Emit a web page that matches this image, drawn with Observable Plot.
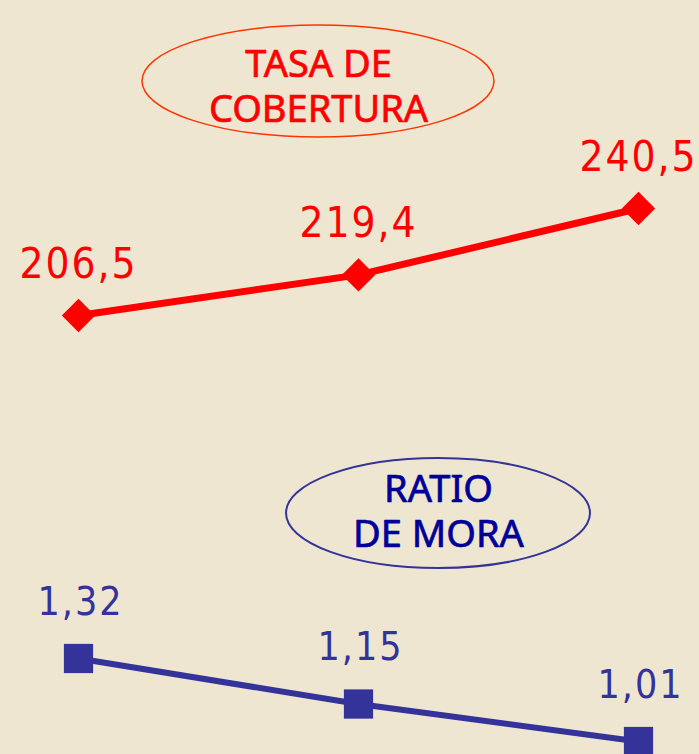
<!DOCTYPE html>
<html>
<head>
<meta charset="utf-8">
<script src="https://cdn.jsdelivr.net/npm/d3@7"></script>
<script src="https://cdn.jsdelivr.net/npm/@observablehq/plot@0.6"></script>
<style>
  html, body { margin: 0; padding: 0; background: #EFE6D1; }
  #chart { width: 699px; height: 754px; overflow: hidden; }
  #chart svg { display: block; background: #EFE6D1; }
  .num text { letter-spacing: 2px; }
</style>
</head>
<body>
<div id="chart"></div>
<script>
// ---- data ----
const periods = ["P1", "P2", "P3"];
const cobertura = [206.5, 219.4, 240.5];
const mora = [1.32, 1.15, 1.01];
const tituloCobertura = "TASA DE\nCOBERTURA";
const tituloMora = "RATIO\nDE MORA";

const bg = "#EFE6D1";
const red = "#FF0000";
const blue = "#333399";
const numFont = "DejaVu Sans Condensed, DejaVu Sans, sans-serif";

const dataCob = periods.map((p, i) => ({period: p, value: cobertura[i]}));
const dataMora = periods.map((p, i) => ({period: p, value: mora[i]}));

function ellipseMark(cx, cy, rx, ry, stroke, sw) {
  return () => {
    const e = document.createElementNS("http://www.w3.org/2000/svg", "ellipse");
    e.setAttribute("cx", cx); e.setAttribute("cy", cy);
    e.setAttribute("rx", rx); e.setAttribute("ry", ry);
    e.setAttribute("fill", "none");
    e.setAttribute("stroke", stroke);
    e.setAttribute("stroke-width", sw);
    return e;
  };
}

const plotTop = Plot.plot({
  width: 699, height: 377,
  margin: 0,
  style: {background: bg, overflow: "visible"},
  x: {type: "point", domain: periods, range: [77, 638], padding: 0, axis: null},
  y: {domain: [206.5, 240.5], range: [315, 208], axis: null},
  marks: [
    ellipseMark(318, 81, 176, 56, "#FF3300", 1.5),
    Plot.text([tituloCobertura], {
      frameAnchor: "top-left", dx: 318, dy: 121, lineAnchor: "bottom",
      textAnchor: "middle", lineHeight: 1.18, fontSize: 38,
      fontFamily: "Noto Sans", fill: red, stroke: red, strokeWidth: 0.7
    }),
    Plot.line(dataCob, {x: "period", y: "value", stroke: red, strokeWidth: 7}),
    Plot.dot(dataCob, {x: "period", y: "value", symbol: "diamond2", r: 15, fill: red, stroke: "none"}),
    Plot.text(dataCob, {
      x: "period", y: "value", text: d => d.value.toFixed(1).replace(".", ","),
      dy: -38, dx: 0, lineAnchor: "bottom", fontSize: 42,
      fontFamily: numFont, fill: red, className: "num"
    })
  ]
});

const plotBottom = Plot.plot({
  width: 699, height: 377,
  margin: 0,
  style: {background: bg, overflow: "visible"},
  x: {type: "point", domain: periods, range: [77, 638], padding: 0, axis: null},
  y: {domain: [1.01, 1.32], range: [364, 281], axis: null},
  marks: [
    ellipseMark(438, 136, 152, 55, blue, 2),
    Plot.text([tituloMora], {
      frameAnchor: "top-left", dx: 438, dy: 169, lineAnchor: "bottom",
      textAnchor: "middle", lineHeight: 1.18, fontSize: 38,
      fontFamily: "Noto Sans", fill: "#000099", stroke: "#000099", strokeWidth: 0.7
    }),
    Plot.line(dataMora, {x: "period", y: "value", stroke: blue, strokeWidth: 6}),
    Plot.dot(dataMora, {x: "period", y: "value", symbol: "square", r: 16.5, fill: blue, stroke: "none"}),
    Plot.text(dataMora, {
      x: "period", y: "value", text: d => d.value.toFixed(2).replace(".", ","),
      dy: -44, dx: 2, lineAnchor: "bottom", fontSize: 39,
      fontFamily: numFont, fill: blue, className: "num"
    })
  ]
});

document.getElementById("chart").append(plotTop, plotBottom);
</script>
</body>
</html>
